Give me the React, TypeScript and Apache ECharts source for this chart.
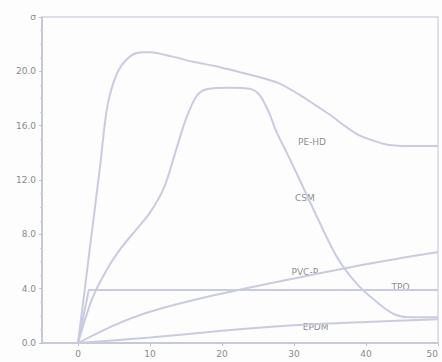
import React, { useEffect, useRef } from "react";
import * as echarts from "echarts";

const xTicks = [0, 10, 20, 30, 40, 50];
const peHd = [[0,0],[1,4.2],[2,8.5],[3,12.7],[4,17.2],[5,19.3],[6,20.4],[7.5,21.2],[9,21.4],[10,21.4],[13,21.1],[16,20.7],[19,20.4],[22,20],[25,19.6],[28,19.1],[31,18.2],[33,17.5],[35,16.8],[37,16],[39,15.3],[41,14.9],[43,14.6],[46,14.5],[50,14.5]];
const csm = [[0,0],[2,3.3],[4,5.4],[6,7],[8,8.3],[10,9.6],[12,11.5],[13.5,14],[15,16.5],[16.5,18.2],[18,18.7],[21,18.8],[24,18.7],[25.3,18.2],[26.5,17],[27.6,15.5],[29,14],[30.8,12],[33,9.5],[36,6.3],[39,4.2],[42,2.8],[44,2.1],[46,1.9],[50,1.9]];
const pvcP = [[0,0],[5,1.3],[10,2.3],[18,3.4],[30,4.75],[40,5.8],[50,6.7]];
const tpo = [[0,0],[1.5,3.9],[50,3.9]];
const epdm = [[0,0],[10,0.4],[20,0.9],[30,1.3],[40,1.55],[50,1.75]];
const labels: [string, number, number][] = [
  ["PE-HD", 32.5, 14.8],
  ["CSM", 31.5, 10.7],
  ["PVC-P", 31.5, 5.2],
  ["TPO", 44.8, 4.1],
  ["EPDM", 33, 1.2],
];

const lineColor = "#c9cce0";

export default function App() {
  const ref = useRef<HTMLDivElement>(null);
  useEffect(() => {
    const chart = echarts.init(ref.current!, null, { renderer: "svg" });
    const mk = (name: string, data: number[][], smooth: number | boolean) => ({
      name,
      type: "line",
      data,
      smooth,
      symbol: "none",
      lineStyle: { color: lineColor, width: 2 },
    });
    chart.setOption({
      animation: false,
      backgroundColor: "#fdfdfd",
      grid: { left: 42, right: 4, top: 17, bottom: 19, show: true, borderColor: "#d4d6e2", borderWidth: 1.5, outerBoundsMode: "none", containLabel: false },
      xAxis: {
        type: "value",
        min: -5,
        max: 50,
        splitLine: { show: false },
        axisLine: { onZero: false, lineStyle: { color: "#c0c2d2", width: 1.5 } },
        axisTick: { show: true, customValues: xTicks, length: 3, lineStyle: { color: "#c0c2d2" } },
        axisLabel: { customValues: xTicks, color: "#8a8a8a", fontSize: 9, margin: 6, fontFamily: "DejaVu Sans", alignMaxLabel: "right" },
      },
      yAxis: {
        type: "value",
        min: 0,
        max: 24,
        interval: 4,
        splitLine: { show: false },
        axisLine: { show: true, onZero: false, lineStyle: { color: "#c0c2d2", width: 1.5 } },
        axisTick: { show: true, length: 3, lineStyle: { color: "#c0c2d2" } },
        minorTick: { show: true, splitNumber: 4, length: 2, lineStyle: { color: "#d0d2de" } },
        axisLabel: {
          color: "#8a8a8a",
          fontSize: 9,
          margin: 6,
          fontFamily: "DejaVu Sans",
          formatter: (v: number) => (v === 24 ? "σ" : v.toFixed(1)),
        },
      },
      series: [
        mk("PE-HD", peHd, 0.3),
        mk("CSM", csm, 0.3),
        mk("PVC-P", pvcP, 0.3),
        mk("TPO", tpo, false),
        mk("EPDM", epdm, 0.3),
        {
          type: "scatter",
          symbolSize: 0,
          data: labels.map(([n, x, y]) => ({ name: n, value: [x, y] })),
          label: {
            show: true,
            position: "inside",
            formatter: (p: any) => p.name,
            color: "#6e6e6e",
            fontSize: 9,
            fontFamily: "DejaVu Sans",
            backgroundColor: "#fdfdfd",
          },
          silent: true,
        },
      ],
    });
    return () => chart.dispose();
  }, []);
  return <div ref={ref} style={{ width: 442, height: 362, position: "absolute", left: 0, top: 0 }} />;
}
